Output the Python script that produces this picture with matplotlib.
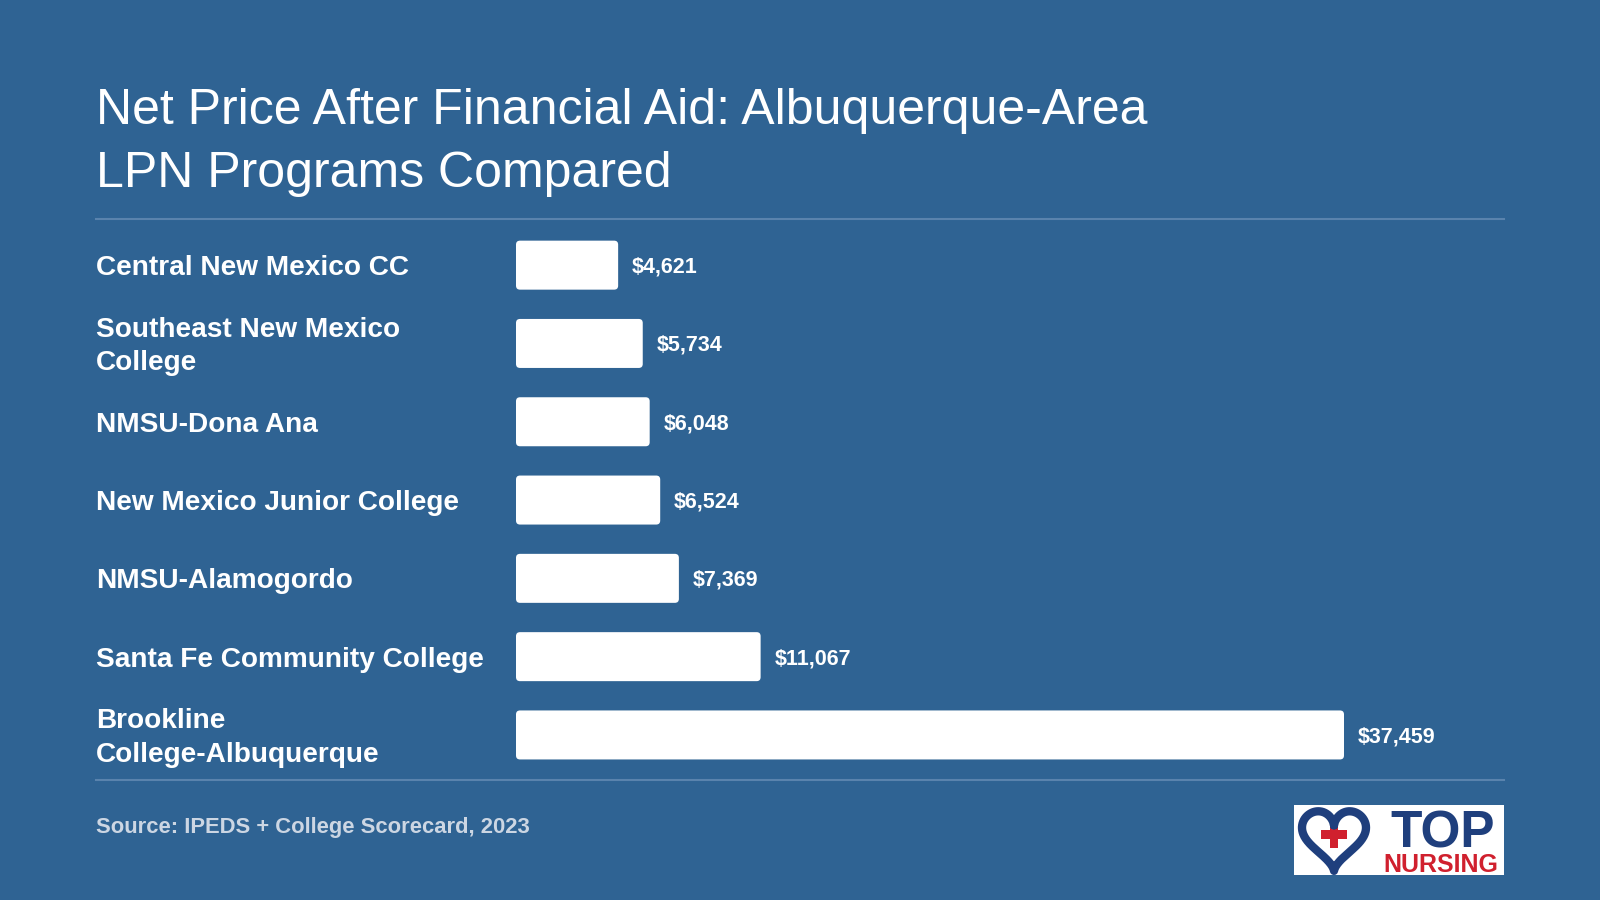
import numpy as np
import matplotlib
matplotlib.use("Agg")
import matplotlib.pyplot as plt
from matplotlib.patches import FancyBboxPatch, Rectangle

# data
schools = ["Central New Mexico CC", "Southeast New Mexico\nCollege", "NMSU-Dona Ana",
           "New Mexico Junior College", "NMSU-Alamogordo", "Santa Fe Community College",
           "Brookline\nCollege-Albuquerque"]
net_price = [4621, 5734, 6048, 6524, 7369, 11067, 37459]
title_lines = ["Net Price After Financial Aid: Albuquerque-Area", "LPN Programs Compared"]
source = "Source: IPEDS + College Scorecard, 2023"

BG = "#2f6393"
W, H = 1600, 900
plt.rcParams['font.family'] = ['Liberation Sans', 'DejaVu Sans']

fig = plt.figure(figsize=(16, 9), dpi=100, facecolor=BG)

def fx(px):
    return px / W

def fy(py):
    return 1 - py / H

# title
fig.text(fx(96), fy(124), title_lines[0], color="white", fontsize=36, va="baseline", ha="left")
fig.text(fx(96), fy(187), title_lines[1], color="white", fontsize=36, va="baseline", ha="left")

# divider lines
for yy in (219, 780):
    fig.add_artist(plt.Line2D([fx(96), fx(1504)], [fy(yy), fy(yy)], color="#5a83ad", lw=1.5))

# bar axes
left_px, right_px = 516, 1504
top_px, row_h = 226, 78.3
n = len(schools)
ax = fig.add_axes([fx(left_px), fy(top_px + n * row_h), fx(right_px - left_px), n * row_h / H])
ax.set_facecolor("none")
px_per_dollar = (1344 - 516) / 37459
ax.set_xlim(0, (right_px - left_px) / px_per_dollar)
ax.set_ylim(n - 0.5, -0.5)
ax.axis("off")

bar_h = 49 / row_h
aspect = (1 / row_h) / (1 / px_per_dollar)
off = 3 / row_h
for i, v in enumerate(net_price):
    p = FancyBboxPatch((0, i - bar_h / 2), v, bar_h,
                       boxstyle="round,pad=0,rounding_size=%f" % (4 / px_per_dollar),
                       mutation_aspect=aspect, fc="white", ec="none")
    ax.add_patch(p)
    ax.text(v + 14 / px_per_dollar, i + 2 / row_h, "${:,}".format(v), color="white", fontsize=15.5,
            fontweight="bold", va="center", ha="left")
    ax.text(-(left_px - 96) / px_per_dollar, i + off, schools[i], color="white", fontsize=20.2,
            fontweight="bold", va="center", ha="left", linespacing=1.37, clip_on=False)

# source
fig.text(fx(96), fy(828), source, color="#ccd6e3", fontsize=15.8, fontweight="bold",
         va="center", ha="left")

# logo
fig.add_artist(Rectangle((fx(1294), fy(875)), fx(210), 70 / H, transform=fig.transFigure,
                         fc="white", ec="none", zorder=0.5))
lax = fig.add_axes([fx(1296), fy(875), fx(76), 68 / H])
lax.set_zorder(5)
lax.axis("off")
t = np.linspace(0.08, 2 * np.pi - 0.08, 400)
hx = 16 * np.sin(t) ** 3
hy = 13 * np.cos(t) - 5 * np.cos(2 * t) - 2 * np.cos(3 * t) - np.cos(4 * t)
lax.plot(hx, hy, color="#1f3f7d", lw=6, solid_capstyle="round")
lax.add_patch(Rectangle((-6.5, -1.5), 13, 4.2, fc="#d0202e", ec="none"))
lax.add_patch(Rectangle((-2.1, -5.8), 4.2, 12.8, fc="#d0202e", ec="none"))
lax.set_xlim(-19, 19)
lax.set_ylim(-19, 14)
fig.text(fx(1443), fy(848), "TOP", color="#1f3f7d", fontsize=37, fontweight="bold",
         ha="center", va="baseline", zorder=6)
fig.text(fx(1441), fy(872), "NURSING", color="#d0202e", fontsize=18, fontweight="bold",
         ha="center", va="baseline", zorder=6)

fig.savefig("out.png", dpi=100, facecolor=BG)
